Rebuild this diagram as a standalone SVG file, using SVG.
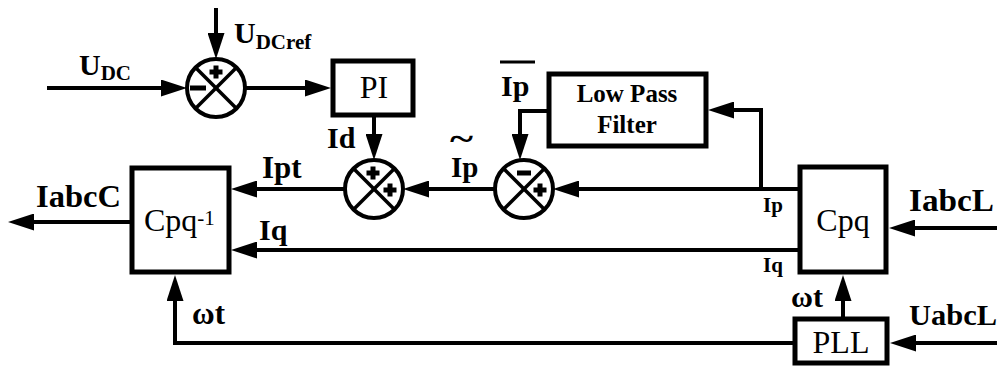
<svg xmlns="http://www.w3.org/2000/svg" width="1000" height="367" viewBox="0 0 1000 367">
<style>
.ln{fill:none;stroke:#000;stroke-width:4;stroke-linecap:butt;stroke-linejoin:miter}
.box{fill:#fff;stroke:#000;stroke-width:5}
.sum{fill:#fff;stroke:#000;stroke-width:4}
.x{stroke:#000;stroke-width:3.5}
.sg{fill:#000}
.lb{font-family:"Liberation Serif","Times New Roman",serif;font-weight:bold;fill:#000}
.bt{font-family:"Liberation Serif","Times New Roman",serif;fill:#000;font-size:32px}
</style>
<defs>
<marker id="ar" viewBox="0 0 26 17" markerWidth="26" markerHeight="17" refX="20" refY="8.5" orient="auto" markerUnits="userSpaceOnUse">
<path d="M0,0 L26,8.5 L0,17 Z" fill="#000"/>
</marker>
<g id="plus"><rect x="-6.5" y="-2.5" width="13" height="5"/><rect x="-2.5" y="-6.5" width="5" height="13"/></g>
</defs>
<rect width="1000" height="367" fill="#fff"/>
<g id="connectors">
<path class="ln" d="M47,88 H181" marker-end="url(#ar)"/>
<path class="ln" d="M216,8 V53" marker-end="url(#ar)"/>
<path class="ln" d="M245,88 H325" marker-end="url(#ar)"/>
<path class="ln" d="M374,116 V154" marker-end="url(#ar)"/>
<path class="ln" d="M495,189 H409" marker-end="url(#ar)"/>
<path class="ln" d="M345,189 H237" marker-end="url(#ar)"/>
<path class="ln" d="M800,189 H559" marker-end="url(#ar)"/>
<path class="ln" d="M761,189 V110 H714" marker-end="url(#ar)"/>
<path class="ln" d="M549,111 H520 V154" marker-end="url(#ar)"/>
<path class="ln" d="M800,250 H237" marker-end="url(#ar)"/>
<path class="ln" d="M132,222 H14" marker-end="url(#ar)"/>
<path class="ln" d="M997,228 H895" marker-end="url(#ar)"/>
<path class="ln" d="M997,343 H896" marker-end="url(#ar)"/>
<path class="ln" d="M843,318 V281" marker-end="url(#ar)"/>
<path class="ln" d="M795,343 H175 V281" marker-end="url(#ar)"/>
</g>
<g id="J1">
<circle class="sum" cx="216" cy="88" r="29"/>
<line class="x" x1="195.5" y1="67.5" x2="236.5" y2="108.5"/>
<line class="x" x1="236.5" y1="67.5" x2="195.5" y2="108.5"/>
<use href="#plus" x="216" y="72" class="sg"/>
<rect class="sg" x="190" y="85.5" width="16" height="5"/>
</g>
<g id="J2">
<circle class="sum" cx="374" cy="189" r="29"/>
<line class="x" x1="353.5" y1="168.5" x2="394.5" y2="209.5"/>
<line class="x" x1="394.5" y1="168.5" x2="353.5" y2="209.5"/>
<use href="#plus" x="373" y="173" class="sg"/>
<use href="#plus" x="390" y="190" class="sg"/>
</g>
<g id="J3">
<circle class="sum" cx="524" cy="189" r="29"/>
<line class="x" x1="503.5" y1="168.5" x2="544.5" y2="209.5"/>
<line class="x" x1="544.5" y1="168.5" x2="503.5" y2="209.5"/>
<rect class="sg" x="517" y="170.5" width="14" height="5"/>
<use href="#plus" x="540" y="190" class="sg"/>
</g>
<g id="PI">
<rect class="box" x="333" y="61" width="80" height="54"/>
<text class="bt" x="374" y="98" text-anchor="middle">PI</text>
</g>
<g id="LPF">
<rect class="box" x="549" y="74" width="157" height="72"/>
<text class="lb" x="627" y="102" text-anchor="middle" font-size="25">Low Pass</text>
<text class="lb" x="627" y="133" text-anchor="middle" font-size="25">Filter</text>
</g>
<g id="CpqInv">
<rect class="box" x="132" y="168" width="97" height="104"/>
<text class="bt" x="144" y="231">Cpq<tspan font-size="21" dy="-6">-1</tspan></text>
</g>
<g id="Cpq">
<rect class="box" x="800" y="167" width="86" height="105"/>
<text class="bt" x="843" y="231" text-anchor="middle">Cpq</text>
</g>
<g id="PLL">
<rect class="box" x="795" y="319" width="92" height="44"/>
<text class="bt" x="841" y="353" text-anchor="middle">PLL</text>
</g>
<g id="labels">
<text class="lb" x="79" y="75" font-size="30">U<tspan font-size="21" dy="5">DC</tspan></text>
<text class="lb" x="234" y="43" font-size="30">U<tspan font-size="21" dy="6">DCref</tspan></text>
<text class="lb" x="327" y="148" font-size="30">Id</text>
<text class="lb" x="262" y="178" font-size="31">Ipt</text>
<text class="lb" x="451" y="177" font-size="29">Ip</text>
<text class="lb" x="450" y="150" font-size="34" textLength="23" lengthAdjust="spacingAndGlyphs">~</text>
<text class="lb" x="501" y="96" font-size="30">Ip</text>
<line x1="500" y1="62" x2="535" y2="62" stroke="#000" stroke-width="3"/>
<text class="lb" x="36" y="207" font-size="31" textLength="85" lengthAdjust="spacingAndGlyphs">IabcC</text>
<text class="lb" x="259" y="240" font-size="30">Iq</text>
<text class="lb" x="192" y="324" font-size="31">ωt</text>
<text class="lb" x="909" y="211" font-size="31" textLength="85" lengthAdjust="spacingAndGlyphs">IabcL</text>
<text class="lb" x="909" y="325" font-size="30" textLength="88" lengthAdjust="spacingAndGlyphs">UabcL</text>
<text class="lb" x="791" y="307" font-size="30">ωt</text>
<text class="lb" x="763" y="212" font-size="21">Ip</text>
<text class="lb" x="763" y="272" font-size="21">Iq</text>
</g>
</svg>
